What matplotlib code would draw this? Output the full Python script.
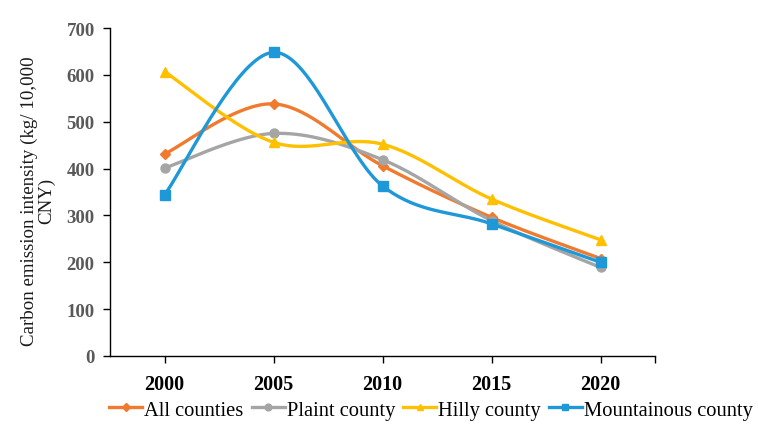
import numpy as np
import matplotlib
matplotlib.use("Agg")
import matplotlib.pyplot as plt
from matplotlib.ticker import FixedLocator

years = ["2000", "2005", "2010", "2015", "2020"]
all_counties = [431, 538, 406, 296, 208]
plaint_county = [401, 475, 419, 289, 189]
hilly_county = [607, 456, 452, 335, 248]
mountainous_county = [344, 648, 363, 282, 200]

series = [
    ("All counties", all_counties, "#F07A2E", "D", 5),
    ("Plaint county", plaint_county, "#A5A5A5", "o", 6.5),
    ("Hilly county", hilly_county, "#FFC000", "^", 6.5),
    ("Mountainous county", mountainous_county, "#1F98D8", "s", 6.5),
]

plt.rcParams['font.family'] = ['Liberation Serif', 'DejaVu Serif']


def smooth(x, y, n=40):
    # Excel-style smoothed line: cubic Bezier with Catmull-Rom control points
    x = np.asarray(x, float)
    y = np.asarray(y, float)
    px = np.concatenate([[x[0]], x, [x[-1]]])
    py = np.concatenate([[y[0]], y, [y[-1]]])
    xs, ys = [], []
    t = np.linspace(0, 1, n)
    for i in range(len(x) - 1):
        p0 = np.array([px[i + 1], py[i + 1]])
        p3 = np.array([px[i + 2], py[i + 2]])
        c1 = p0 + (np.array([px[i + 2], py[i + 2]]) - np.array([px[i], py[i]])) / 6
        c2 = p3 - (np.array([px[i + 3], py[i + 3]]) - np.array([px[i + 1], py[i + 1]])) / 6
        b = ((1 - t) ** 3)[:, None] * p0 + (3 * (1 - t) ** 2 * t)[:, None] * c1 \
            + (3 * (1 - t) * t ** 2)[:, None] * c2 + (t ** 3)[:, None] * p3
        xs.extend(b[:, 0])
        ys.extend(b[:, 1])
    return np.array(xs), np.array(ys)


fig = plt.figure(figsize=(7.58, 4.31), dpi=100)
ax = fig.add_axes([110 / 758, 1 - 357 / 431, 545 / 758, 328 / 431])

xpos = np.arange(len(years))
handles = []
for name, vals, color, marker, ms in series:
    sx, sy = smooth(xpos, vals)
    ax.plot(sx, sy, color=color, lw=2.4, solid_capstyle='round', zorder=2)
    ax.plot(xpos, vals, linestyle='none', marker=marker, color=color, ms=ms, zorder=3)
    h, = ax.plot([], [], color=color, lw=2.4, marker=marker, ms=ms * 0.75, label=name)
    handles.append(h)

ax.set_xlim(-0.5, len(years) - 0.5)
ax.set_ylim(0, 700)
ax.set_yticks(np.arange(0, 701, 100))
ax.set_xticks(xpos)
ax.set_xticklabels(years)
ax.xaxis.set_minor_locator(FixedLocator([len(years) - 0.5]))

for s in ['top', 'right']:
    ax.spines[s].set_visible(False)
for s in ['left', 'bottom']:
    ax.spines[s].set_color('black')
    ax.spines[s].set_linewidth(1.0)

ax.tick_params(axis='y', direction='out', length=5, width=1, colors='black',
               labelcolor='#595959', labelsize=13.5, pad=6)
ax.tick_params(axis='x', direction='out', length=5, width=1, colors='black',
               labelcolor='black', labelsize=14.5, pad=8)
ax.tick_params(axis='x', which='minor', direction='out', length=5, width=1)
for lab in ax.get_yticklabels() + ax.get_xticklabels():
    lab.set_fontweight('bold')

ax.set_ylabel("Carbon emission intensity (kg/ 10,000\nCNY)", fontsize=13.6,
              color='#1a1a1a', linespacing=1.0)
ax.yaxis.set_label_coords(-0.1, 0.475)

fig.legend(handles=handles, loc='center', bbox_to_anchor=(431 / 758, 1 - 411 / 431),
           ncol=4, frameon=False, fontsize=14.8, handlelength=1.6, handletextpad=0.1,
           columnspacing=0.4, borderaxespad=0)

fig.savefig("out.png", dpi=100)
